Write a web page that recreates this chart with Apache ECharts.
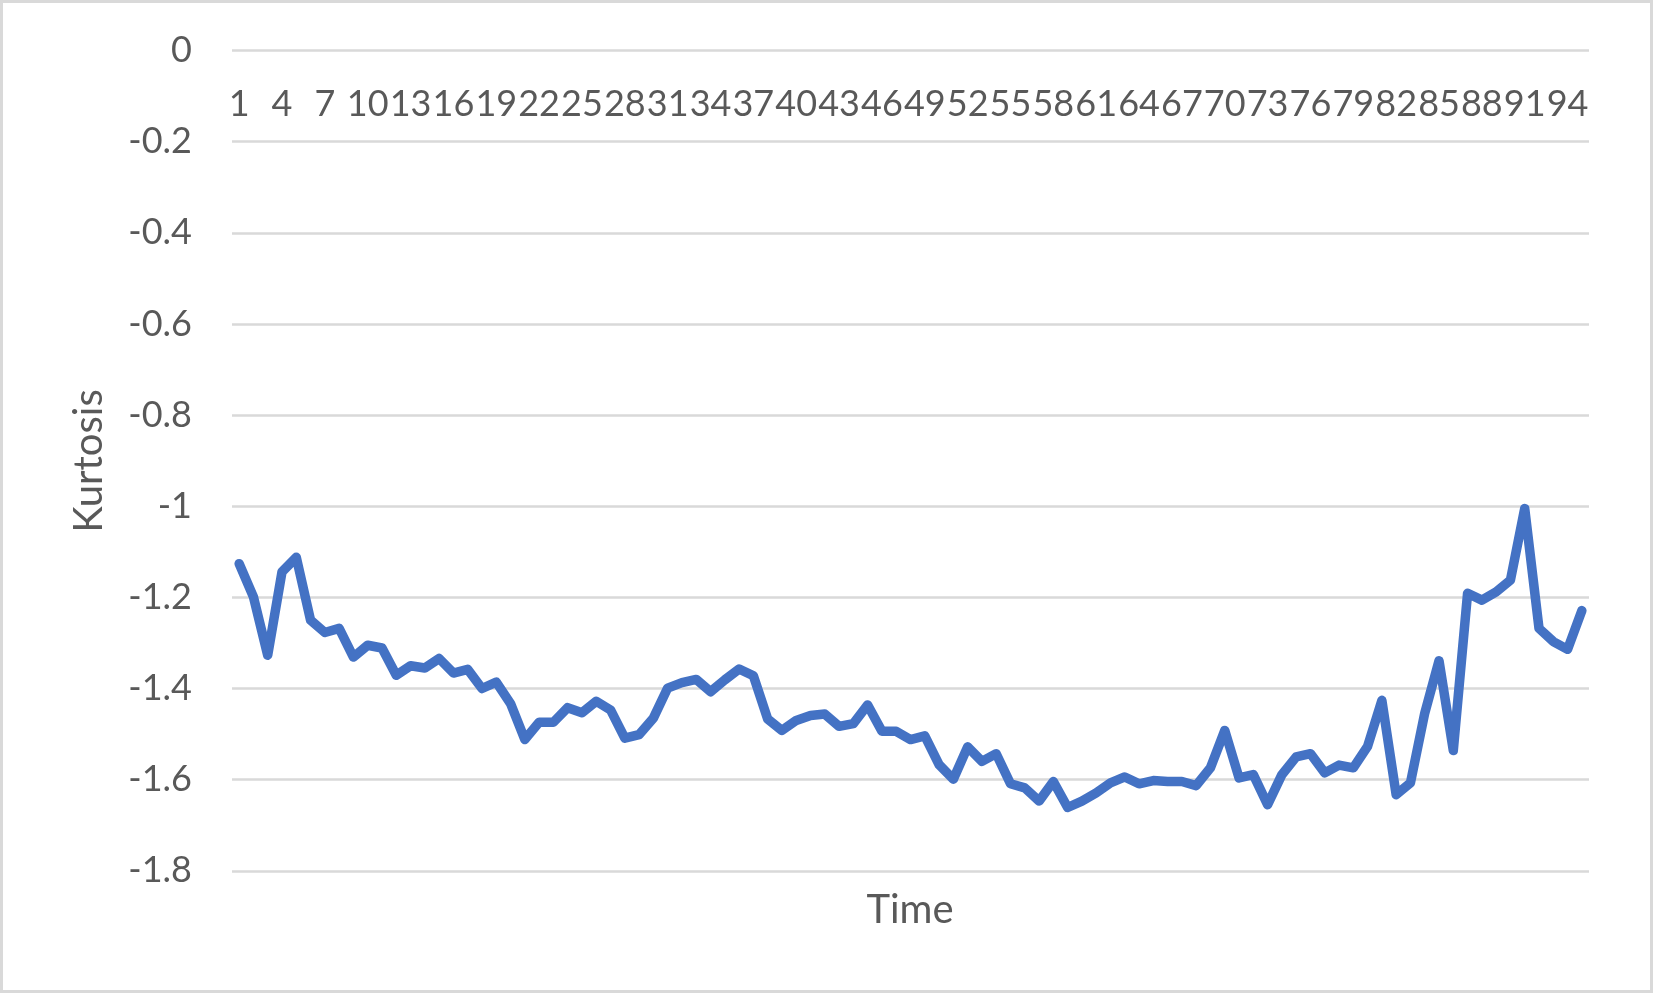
<!DOCTYPE html>
<html>
<head>
<meta charset="utf-8">
<title>Kurtosis</title>
<script src="https://cdn.jsdelivr.net/npm/echarts@6/dist/echarts.min.js"></script>
<style>
	html, body { margin: 0; padding: 0; background: #fff; }
	#main { width: 1653px; height: 993px; }
</style>
</head>
<body>
<div id="main"></div>
<script>
// time steps 1..95
var timeSteps = [
	1, 2, 3, 4, 5, 6, 7, 8, 9, 10, 11, 12, 13, 14, 15, 16, 17, 18, 19, 20,
	21, 22, 23, 24, 25, 26, 27, 28, 29, 30, 31, 32, 33, 34, 35, 36, 37, 38, 39, 40,
	41, 42, 43, 44, 45, 46, 47, 48, 49, 50, 51, 52, 53, 54, 55, 56, 57, 58, 59, 60,
	61, 62, 63, 64, 65, 66, 67, 68, 69, 70, 71, 72, 73, 74, 75, 76, 77, 78, 79, 80,
	81, 82, 83, 84, 85, 86, 87, 88, 89, 90, 91, 92, 93, 94, 95
];

// kurtosis
var kurtosis = [
	-1.126, -1.199, -1.327, -1.144, -1.112, -1.250, -1.277, -1.268, -1.331, -1.305,
	-1.311, -1.371, -1.350, -1.355, -1.334, -1.366, -1.358, -1.400, -1.386, -1.433,
	-1.512, -1.474, -1.474, -1.442, -1.453, -1.428, -1.447, -1.509, -1.501, -1.465,
	-1.399, -1.387, -1.380, -1.407, -1.381, -1.357, -1.372, -1.467, -1.492, -1.470,
	-1.459, -1.456, -1.483, -1.477, -1.436, -1.494, -1.494, -1.512, -1.504, -1.567,
	-1.599, -1.528, -1.560, -1.543, -1.609, -1.618, -1.647, -1.604, -1.661, -1.647,
	-1.629, -1.607, -1.594, -1.609, -1.602, -1.604, -1.604, -1.613, -1.574, -1.492,
	-1.596, -1.589, -1.655, -1.589, -1.550, -1.543, -1.585, -1.568, -1.574, -1.527,
	-1.426, -1.633, -1.607, -1.454, -1.339, -1.536, -1.191, -1.206, -1.188, -1.162,
	-1.005, -1.268, -1.297, -1.314, -1.229
];

var yTicks = { min: -1.8, max: 0, step: 0.2 };
var xTitle = 'Time';
var yTitle = 'Kurtosis';

var textColor = '#595959';
var font = 'Lato, "Open Sans", sans-serif';

var myChart = echarts.init(document.getElementById('main'));
var option = {
	backgroundColor: '#fff',
	animation: false,
	grid: { left: 232, right: 64, top: 50.6, bottom: 122.2 },
	xAxis: {
		type: 'category',
		position: 'top',
		data: timeSteps,
		boundaryGap: true,
		axisLine: { show: false },
		axisTick: { show: false },
		axisLabel: {
			inside: true,
			interval: 2,
			margin: 36,
			color: textColor,
			fontFamily: font,
			fontSize: 36
		}
	},
	yAxis: {
		type: 'value',
		min: yTicks.min,
		max: yTicks.max,
		interval: yTicks.step,
		axisLine: { show: false },
		axisTick: { show: false },
		axisLabel: {
			margin: 40,
			color: textColor,
			fontFamily: font,
			fontSize: 36
		},
		splitLine: { lineStyle: { color: '#d9d9d9', width: 2.5 } }
	},
	series: [{
		type: 'line',
		data: kurtosis,
		symbol: 'none',
		lineStyle: { color: '#4472C4', width: 9.5, join: 'round', cap: 'round' }
	}],
	graphic: [
		{
			type: 'rect',
			shape: { x: 1.5, y: 1.5, width: 1650, height: 990 },
			style: { fill: 'none', stroke: '#d9d9d9', lineWidth: 3 },
			silent: true
		},
		{
			type: 'text',
			x: 910,
			y: 910,
			style: {
				text: xTitle, fill: textColor, font: '40px ' + font,
				textAlign: 'center', textVerticalAlign: 'middle'
			}
		},
		{
			type: 'text',
			x: 89,
			y: 461,
			rotation: Math.PI / 2,
			style: {
				text: yTitle, fill: textColor, font: '40px ' + font,
				textAlign: 'center', textVerticalAlign: 'middle'
			}
		}
	]
};
myChart.setOption(option);
</script>
</body>
</html>
